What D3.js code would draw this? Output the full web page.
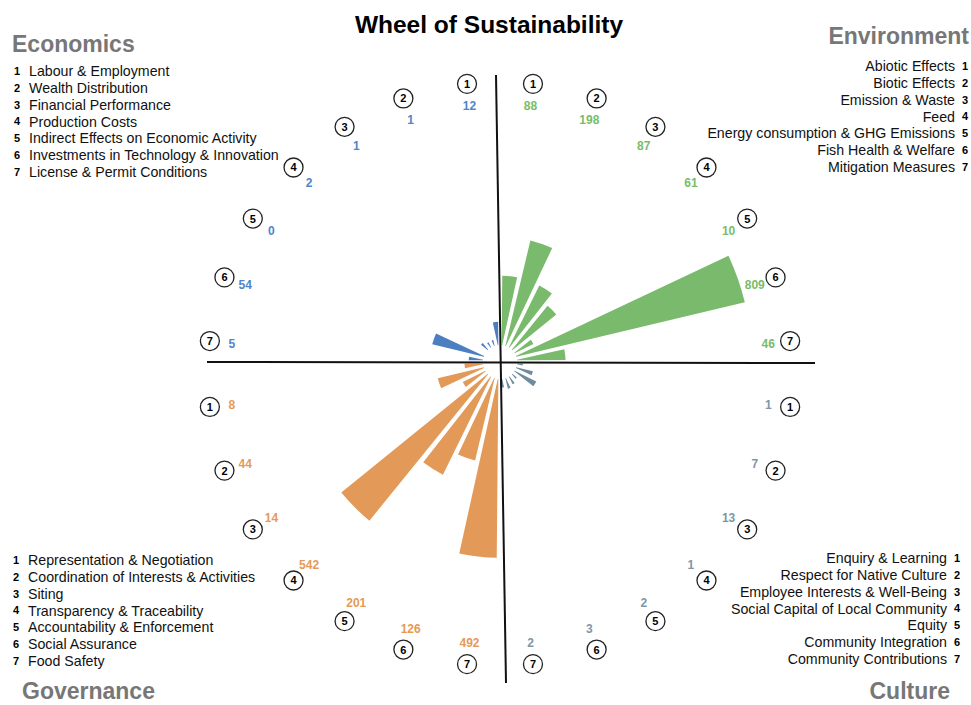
<!DOCTYPE html>
<html>
<head>
<meta charset="utf-8">
<script src="https://cdn.jsdelivr.net/npm/d3@7"></script>
<style>
  body { margin: 0; background: #fff; }
  text { font-family: "Liberation Sans", Arial, Helvetica, sans-serif; }
</style>
</head>
<body>
<div id="chart"></div>
<script>
// ---- data ----
var ids = [1, 2, 3, 4, 5, 6, 7];

var economicsNames = ["Labour & Employment", "Wealth Distribution", "Financial Performance",
  "Production Costs", "Indirect Effects on Economic Activity",
  "Investments in Technology & Innovation", "License & Permit Conditions"];
var economicsValues = [12, 1, 1, 2, 0, 54, 5];

var environmentNames = ["Abiotic Effects", "Biotic Effects", "Emission & Waste", "Feed",
  "Energy consumption & GHG Emissions", "Fish Health & Welfare", "Mitigation Measures"];
var environmentValues = [88, 198, 87, 61, 10, 809, 46];

var cultureNames = ["Enquiry & Learning", "Respect for Native Culture",
  "Employee Interests & Well-Being", "Social Capital of Local Community", "Equity",
  "Community Integration", "Community Contributions"];
var cultureValues = [1, 7, 13, 1, 2, 3, 2];

var governanceNames = ["Representation & Negotiation", "Coordination of Interests & Activities",
  "Siting", "Transparency & Traceability", "Accountability & Enforcement",
  "Social Assurance", "Food Safety"];
var governanceValues = [8, 44, 14, 542, 201, 126, 492];

// ---- layout ----
var width = 971, height = 705,
    cx = 500, cy = 362,      // centre of the wheel
    ringCy = 374,            // the number ring sits a little lower than the wheel
    inner = 17, outer = 252,
    ringR = 292, valueR = 270;

var rad = Math.PI / 180;

// quadrant settings (angles in degrees, clockwise from north)
var quadrants = [
  {key: "Economics", names: economicsNames, values: economicsValues, from: 360, to: 270,
   bar: "#4b7fc0", label: "#4f86cb"},
  {key: "Environment", names: environmentNames, values: environmentValues, from: 0, to: 90,
   bar: "#79ba6c", label: "#77bd69"},
  {key: "Culture", names: cultureNames, values: cultureValues, from: 90, to: 180,
   bar: "#6f8c9e", label: "#7c97a8"},
  {key: "Governance", names: governanceNames, values: governanceValues, from: 270, to: 180,
   bar: "#e39a58", label: "#e69a55"}
];

var maxValue = d3.max(quadrants, function(q) { return d3.max(q.values); });
var r = d3.scalePow().exponent(0.55).domain([0, maxValue]).range([inner, outer]);

var svg = d3.select("#chart").append("svg")
    .attr("width", width)
    .attr("height", height);

var wheel = svg.append("g").attr("transform", "translate(" + cx + "," + cy + ")");
var ring = svg.append("g").attr("transform", "translate(" + cx + "," + ringCy + ")");

var arc = d3.arc()
    .innerRadius(inner)
    .outerRadius(function(d) { return r(d.value); })
    .startAngle(function(d) { return d.a0; })
    .endAngle(function(d) { return d.a1; })
    .padAngle(0.03)
    .padRadius(100);

quadrants.forEach(function(q) {
  var x = d3.scaleBand().domain(ids)
      .range([q.from * rad, q.to * rad])
      .paddingInner(0.07).paddingOuter(0.04);
  var bw = x.bandwidth();
  var rows = ids.map(function(id, i) {
    return {id: id, value: q.values[i], a0: x(id), a1: x(id) + bw, mid: x(id) + bw / 2};
  });

  wheel.append("g").selectAll("path")
      .data(rows.filter(function(d) { return d.value > 0; }))
      .enter().append("path")
      .attr("d", arc)
      .attr("fill", q.bar);

  // numbered circles on the outer ring
  var marks = ring.append("g").selectAll("g")
      .data(rows).enter().append("g")
      .attr("transform", function(d) {
        var p = d3.pointRadial(d.mid, ringR);
        return "translate(" + p[0] + "," + p[1] + ")";
      });
  marks.append("circle")
      .attr("r", 9.5)
      .attr("fill", "#fff")
      .attr("stroke", "#222")
      .attr("stroke-width", 1.3);
  marks.append("text")
      .attr("text-anchor", "middle")
      .attr("dy", "0.36em")
      .attr("font-size", 11)
      .attr("font-weight", "bold")
      .text(function(d) { return d.id; });

  // values
  ring.append("g").selectAll("text")
      .data(rows).enter().append("text")
      .attr("x", function(d) { return d3.pointRadial(d.mid, valueR)[0]; })
      .attr("y", function(d) { return d3.pointRadial(d.mid, valueR)[1]; })
      .attr("text-anchor", "middle")
      .attr("dy", "0.36em")
      .attr("font-size", 12)
      .attr("font-weight", "bold")
      .attr("fill", q.label)
      .text(function(d) { return d.value; });
});

// axes
svg.append("line")
    .attr("x1", 207).attr("y1", 362).attr("x2", 815).attr("y2", 363)
    .attr("stroke", "#111").attr("stroke-width", 2);
svg.append("line")
    .attr("x1", 496).attr("y1", 75).attr("x2", 506).attr("y2", 683)
    .attr("stroke", "#111").attr("stroke-width", 2);

// title
svg.append("text")
    .attr("x", 489).attr("y", 33)
    .attr("text-anchor", "middle")
    .attr("font-size", 24.5)
    .attr("font-weight", "bold")
    .attr("fill", "#000")
    .text("Wheel of Sustainability");

// legends
var legendSpec = [
  {q: 0, hx: 12, hy: 52, anchor: "start", nx: 17, tx: 29, y0: 71},
  {q: 1, hx: 969, hy: 44, anchor: "end", nx: 965, tx: 955, y0: 66},
  {q: 2, hx: 950, hy: 699, anchor: "end", nx: 957, tx: 947, y0: 558},
  {q: 3, hx: 22, hy: 699, anchor: "start", nx: 16, tx: 28, y0: 560}
];
var step = 16.8;

legendSpec.forEach(function(s) {
  var q = quadrants[s.q];
  svg.append("text")
      .attr("x", s.hx).attr("y", s.hy)
      .attr("text-anchor", s.anchor)
      .attr("font-size", 23)
      .attr("font-weight", "bold")
      .attr("fill", "#777")
      .text(q.key);

  var g = svg.append("g");
  g.selectAll("text.num")
      .data(ids).enter().append("text")
      .attr("class", "num")
      .attr("x", s.nx)
      .attr("y", function(d, i) { return s.y0 + i * step; })
      .attr("dy", "0.36em")
      .attr("text-anchor", "middle")
      .attr("font-size", 11)
      .attr("font-weight", "bold")
      .text(function(d) { return d; });
  g.selectAll("text.name")
      .data(q.names).enter().append("text")
      .attr("class", "name")
      .attr("x", s.tx)
      .attr("y", function(d, i) { return s.y0 + i * step; })
      .attr("dy", "0.36em")
      .attr("text-anchor", s.anchor)
      .attr("font-size", 14.2)
      .attr("fill", "#111")
      .text(function(d) { return d; });
});
</script>
</body>
</html>
